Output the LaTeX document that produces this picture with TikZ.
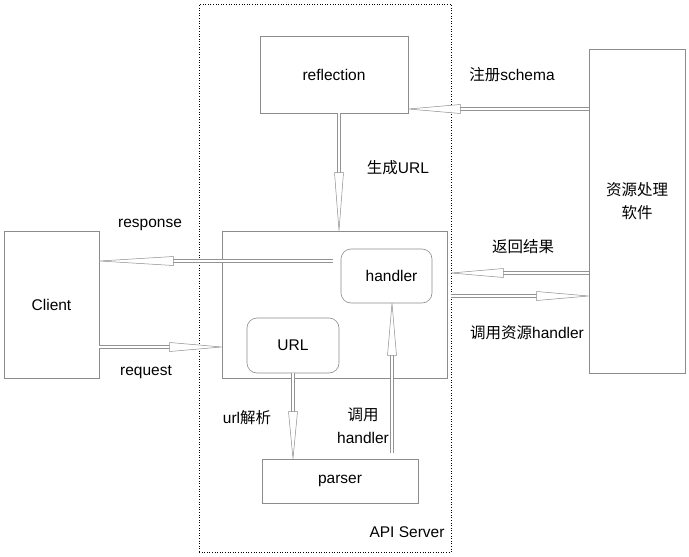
\documentclass[tikz,border=0pt]{standalone}
\usepackage{fontspec}
\setmainfont{Liberation Sans}
\newfontfamily\cjk{Noto Sans CJK SC}
\usetikzlibrary{decorations.markings}

\tikzset{
	box/.style = {draw=gray!90, line width=0.6pt, inner sep=0pt},
	rbox/.style = {box, rounded corners=10pt},
	head/.style = {draw=gray!90, fill=white, line width=0.5pt, line join=miter},
	flow/.style = {draw=white, line width=1.2pt, shorten >=#1pt,
		preaction={draw=gray!85, line width=3.2pt},
		postaction={decorate, decoration={markings, mark=at position 1 with
			{\draw[head] (0,0) -- (-#1pt,4.5pt) -- (-#1pt,-4.5pt) -- cycle;}}}},
	flow/.default = 52,
	lbl/.style = {inner sep=0pt, align=center}
}

\begin{document}
\begin{tikzpicture}[x=1pt, y=-1pt, font=\fontsize{15.5}{23}\selectfont]

	\useasboundingbox (0,0) rectangle (689,557);

	% API Server frame
	\node[draw, dotted, line width=0.6pt, minimum width=252pt, minimum height=548pt] (server) at (325,278) {};
	\node[lbl] (apiname) at (407,532) {API Server};

	% Boxes
	\node[box, minimum width=148pt, minimum height=77pt] (reflection) at (334,74.5) {reflection};
	\node[box, minimum width=225pt, minimum height=147pt] (core) at (334.5,304.5) {};
	\node[rbox, minimum width=91pt, minimum height=54pt] (handler) at (386.5,276) {\hspace{10pt}handler};
	\node[rbox, minimum width=92pt, minimum height=55pt] (URL) at (293,345.5) {URL};
	\node[box, minimum width=95pt, minimum height=147pt] (Client) at (51.5,304.5) {Client};
	\node[box, minimum width=156pt, minimum height=44pt] (parser) at (340,481) {parser};
	\node[box, minimum width=96pt, minimum height=324pt] (res) at (637,211) {};
	\node[lbl] (restext) at (637,201) {\cjk 资源处理\\\cjk 软件};

	% Arrows
	\draw[flow] (res.west |- 0,109) -- (reflection.east |- 0,109);
	\draw[flow=58] ([xshift=5pt]reflection.south) -- ([xshift=5pt]reflection.south |- core.north);
	\draw[flow=74] (333,261) -- (Client.east |- 0,261);
	\draw[flow] (Client.east |- 0,347) -- (core.west |- 0,347);
	\draw[flow] (res.west |- 0,273) -- (server.east |- 0,273);
	\draw[flow] (server.east |- 0,296) -- (res.west |- 0,296);
	\draw[flow=47] (URL.south) -- (URL.south |- parser.north);
	\draw[flow] ([xshift=52pt,yshift=6pt]parser.north) -- ([xshift=52pt]parser.north |- handler.south);

	% Labels
	\node[lbl] (regtext) at (512,75) {{\cjk 注册}schema};
	\node[lbl] (gentext) at (398,168) {{\cjk 生成}URL};
	\node[lbl] (resptext) at (150,225) {response};
	\node[lbl] (reqtext) at (146,372) {request};
	\node[lbl] (backtext) at (523,247) {\cjk 返回结果};
	\node[lbl] (calltext) at (527,333) {{\cjk 调用资源}handler};
	\node[lbl] (urltext) at (247,418) {url{\cjk 解析}};
	\node[lbl] (hdltext) at (363,426) {{\cjk 调用}\\handler};

\end{tikzpicture}
\end{document}
